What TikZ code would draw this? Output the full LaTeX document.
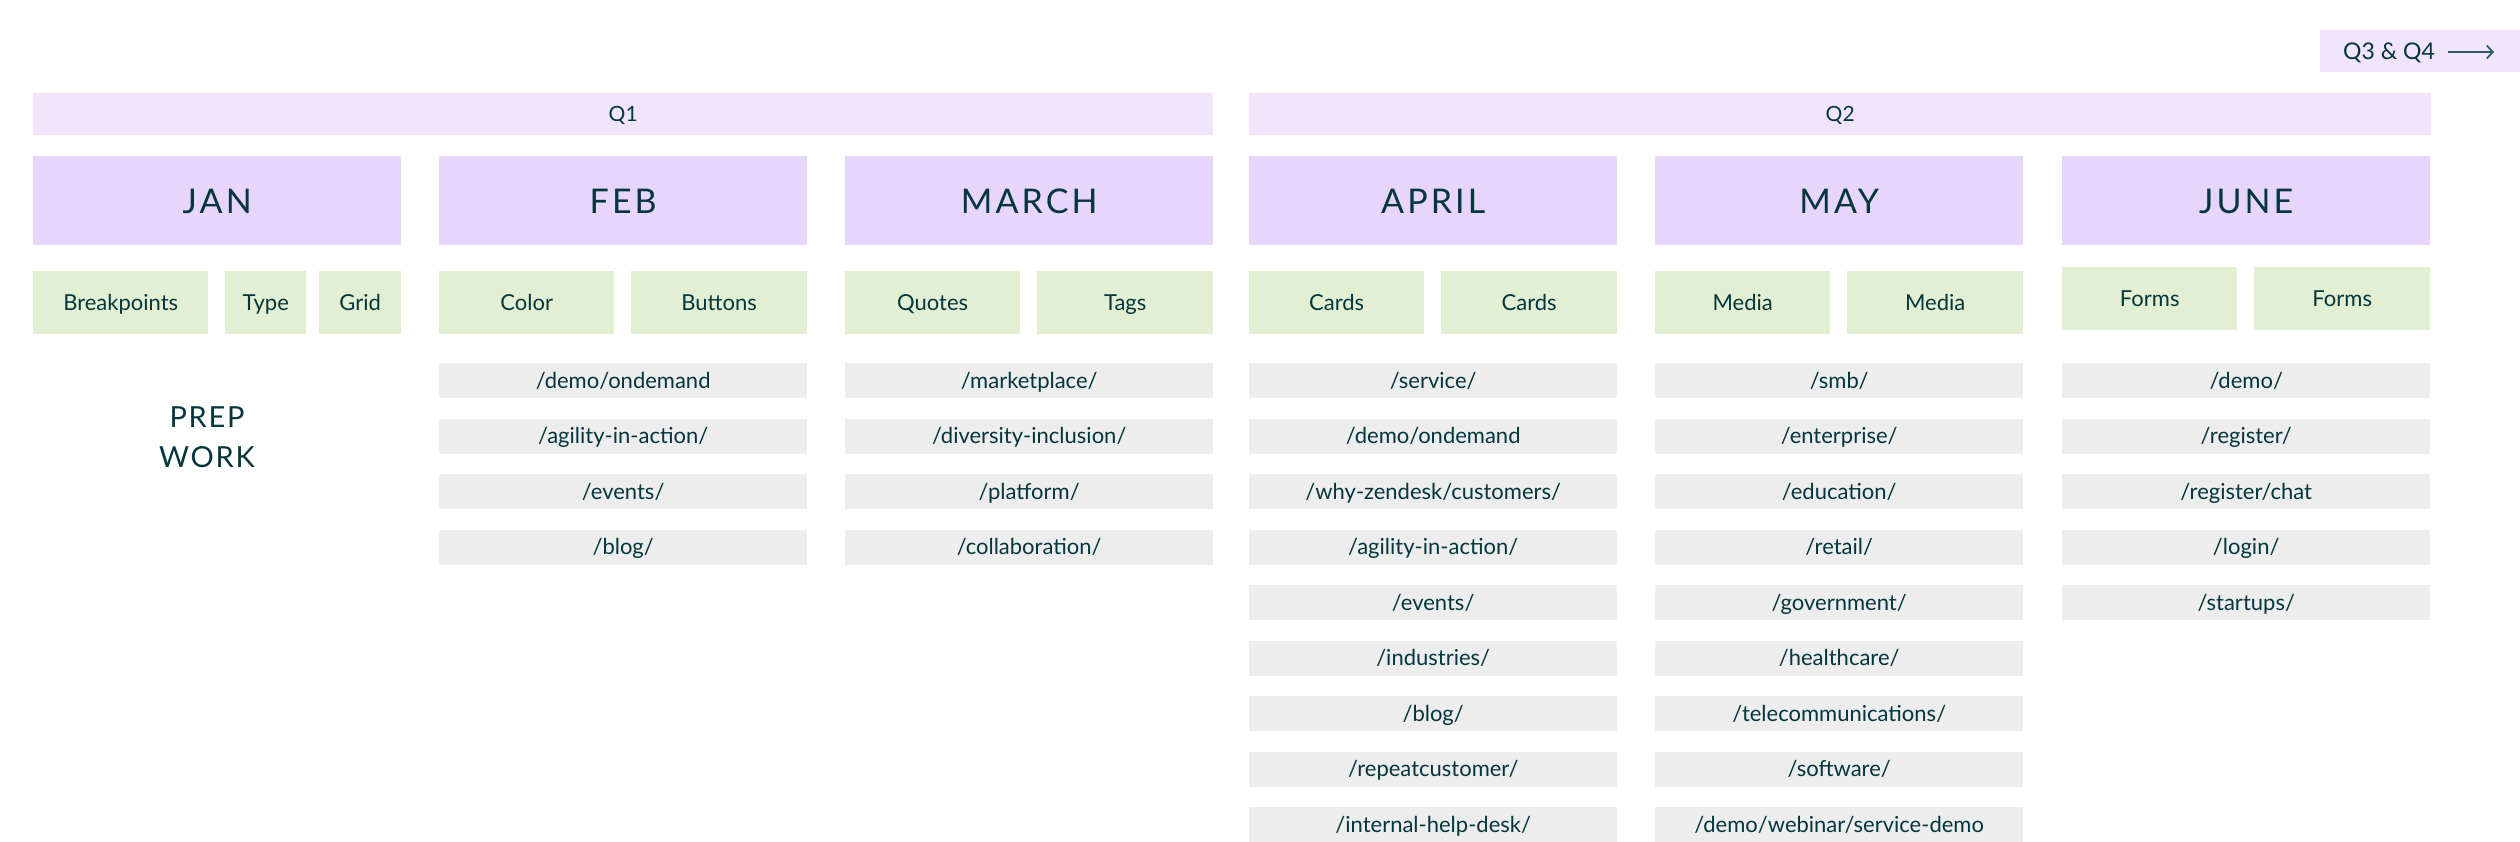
\documentclass[tikz,border=0pt]{standalone}
\usepackage{fontspec}
\setmainfont{Lato}
\newfontfamily\spaced[LetterSpace=6]{Lato}
\newfontfamily\monthfont[LetterSpace=9]{Lato}
\usetikzlibrary{arrows.meta}
\definecolor{ink}{HTML}{03363D}
\definecolor{arrowc}{HTML}{2F5A63}
\definecolor{qfill}{HTML}{F1E4FD}
\definecolor{mfill}{HTML}{E8D5FB}
\definecolor{gfill}{HTML}{E3EFD3}
\definecolor{ufill}{HTML}{EDEDED}
\tikzset{
  box/.style={rectangle, inner sep=0pt, anchor=north west, text=ink, text depth=0pt},
  qbar/.style={box, fill=qfill, minimum height=42pt, text height=15pt, font=\fontsize{21}{25}\selectfont},
  month/.style={box, fill=mfill, minimum width=368pt, minimum height=89pt, text height=25pt, font=\monthfont\fontsize{34}{40}\selectfont},
  topic/.style={box, fill=gfill, minimum height=63pt, text height=15.7pt, font=\fontsize{22}{26}\selectfont},
  url/.style={box, fill=ufill, minimum width=368pt, minimum height=35pt, text height=15pt, font=\fontsize{22}{26}\selectfont},
  prep/.style={anchor=base, text=ink, inner sep=0pt, font=\spaced\fontsize{29}{35}\selectfont}
}
\begin{document}
\begin{tikzpicture}[x=1pt,y=-1pt]
\useasboundingbox (0,0) rectangle (2520,842);
% Q3 & Q4
\node[box, fill=qfill, minimum width=200pt, minimum height=42pt] (q34) at (2320,30) {};
\node[anchor=west, inner sep=0pt, text=ink, font=\fontsize{23}{28}\selectfont, text height=17pt, text depth=0pt] (q34t) at (2343,51) {Q3 \& Q4};
\coordinate (arrS) at (2448,52);
\coordinate (arrE) at (2494,52);
\draw[-{Straight Barb[length=6pt,width=13pt]}, line width=1.7pt, arrowc] (arrS) -- (arrE);
% Quarters
\node[qbar, minimum width=1180pt] (q1) at (33,93) {Q1};
\node[qbar, minimum width=1182pt] (q2) at (1249,93) {Q2};
% Months
\node[month] (jan) at (33,156) {JAN};
\node[month] (feb) at (439,156) {FEB};
\node[month] (mar) at (845,156) {MARCH};
\node[month] (apr) at (1249,156) {APRIL};
\node[month] (may) at (1655,156) {MAY};
\node[month] (jun) at (2062,156) {JUNE};
% Topics
\node[topic, minimum width=175pt] (jan1) at (33,271) {Breakpoints};
\node[topic, minimum width=81pt] (jan2) at (225,271) {Type};
\node[topic, minimum width=82pt] (jan3) at (319,271) {Grid};
\node[topic, minimum width=175pt] (feb1) at (439,271) {Color};
\node[topic, minimum width=176pt] (feb2) at (631,271) {Buttons};
\node[topic, minimum width=175pt] (mar1) at (845,271) {Quotes};
\node[topic, minimum width=176pt] (mar2) at (1037,271) {Tags};
\node[topic, minimum width=175pt] (apr1) at (1249,271) {Cards};
\node[topic, minimum width=176pt] (apr2) at (1441,271) {Cards};
\node[topic, minimum width=175pt] (may1) at (1655,271) {Media};
\node[topic, minimum width=176pt] (may2) at (1847,271) {Media};
\node[topic, minimum width=175pt] (jun1) at (2062,267) {Forms};
\node[topic, minimum width=176pt] (jun2) at (2254,267) {Forms};
% Prep work
\node[prep] (prepa) at (207,427) {PREP};
\node[prep] (prepb) at (207,467) {WORK};
% URLs
\foreach \t [count=\i from 0] in {/demo/ondemand,/agility-in-action/,/events/,/blog/}
  \node[url] (febu\i) at (439,{363+55.5*\i}) {\t};
\foreach \t [count=\i from 0] in {/marketplace/,/diversity-inclusion/,/platform/,/collaboration/}
  \node[url] (maru\i) at (845,{363+55.5*\i}) {\t};
\foreach \t [count=\i from 0] in {/service/,/demo/ondemand,/why-zendesk/customers/,/agility-in-action/,/events/,/industries/,/blog/,/repeatcustomer/,/internal-help-desk/}
  \node[url] (apru\i) at (1249,{363+55.5*\i}) {\t};
\foreach \t [count=\i from 0] in {/smb/,/enterprise/,/education/,/retail/,/government/,/healthcare/,/telecommunications/,/software/,/demo/webinar/service-demo}
  \node[url] (mayu\i) at (1655,{363+55.5*\i}) {\t};
\foreach \t [count=\i from 0] in {/demo/,/register/,/register/chat,/login/,/startups/}
  \node[url] (junu\i) at (2062,{363+55.5*\i}) {\t};
\end{tikzpicture}
\end{document}
